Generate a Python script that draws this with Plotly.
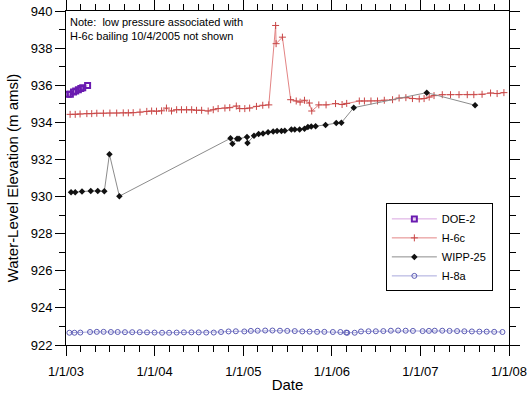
import plotly.graph_objects as go

# ---------------- data ----------------
doe2_dates = ["2003-01-10", "2003-01-19", "2003-02-01", "2003-02-10", "2003-02-21",
              "2003-03-03", "2003-03-11", "2003-03-31"]
doe2_vals = [935.51, 935.51, 935.63, 935.69, 935.76, 935.82, 935.87, 935.98]

h6c_dates = ["2003-01-18", "2003-02-08", "2003-02-28", "2003-03-28", "2003-04-17",
             "2003-05-08", "2003-06-04", "2003-07-01", "2003-07-29", "2003-08-25",
             "2003-09-15", "2003-10-05", "2003-11-02", "2003-11-30", "2003-12-20",
             "2004-01-09", "2004-01-30", "2004-02-19", "2004-03-11", "2004-04-01",
             "2004-04-21", "2004-05-12", "2004-06-02", "2004-06-22", "2004-07-13",
             "2004-08-09", "2004-08-30", "2004-09-19", "2004-10-17", "2004-11-06",
             "2004-12-03", "2004-12-17", "2005-01-07", "2005-01-27", "2005-02-24",
             "2005-03-22", "2005-04-16", "2005-05-14", "2005-05-16", "2005-06-11",
             "2005-07-15", "2005-08-07", "2005-08-23", "2005-09-10", "2005-09-30",
             "2005-10-10", "2005-11-08", "2005-12-08", "2006-01-16", "2006-02-12",
             "2006-03-03", "2006-04-24", "2006-05-15", "2006-06-11", "2006-07-08",
             "2006-08-05", "2006-09-08", "2006-10-05", "2006-11-02", "2006-11-29",
             "2006-12-27", "2007-01-16", "2007-02-06", "2007-02-26", "2007-04-01",
             "2007-05-05", "2007-06-09", "2007-07-13", "2007-08-09", "2007-09-12",
             "2007-10-17", "2007-11-13", "2007-12-11"]
h6c_vals = [934.43, 934.43, 934.45, 934.47, 934.47,
            934.49, 934.49, 934.50, 934.50, 934.51,
            934.51, 934.52, 934.55, 934.59, 934.61,
            934.60, 934.62, 934.77, 934.61, 934.68,
            934.68, 934.68, 934.68, 934.65, 934.65,
            934.61, 934.68, 934.74, 934.77, 934.79,
            934.88, 934.74, 934.74, 934.77, 934.86,
            934.92, 934.94, 939.22, 938.24, 938.59,
            935.22, 935.15, 935.09, 935.19, 935.04,
            934.61, 934.94, 934.94, 935.01, 934.96,
            935.02, 935.15, 935.15, 935.15, 935.15,
            935.19, 935.22, 935.31, 935.33, 935.28,
            935.26, 935.28, 935.36, 935.44, 935.49,
            935.49, 935.49, 935.49, 935.49, 935.51,
            935.58, 935.55, 935.60]

wipp25_dates = ["2003-01-22", "2003-02-08", "2003-03-08", "2003-04-13", "2003-05-12",
                "2003-06-08", "2003-06-29", "2003-08-09", "2004-11-09", "2004-11-17",
                "2004-12-06", "2004-12-14", "2005-01-16", "2005-01-18", "2005-02-14",
                "2005-03-05", "2005-03-23", "2005-04-13", "2005-05-04", "2005-05-20",
                "2005-06-07", "2005-06-21", "2005-07-18", "2005-08-01", "2005-08-21",
                "2005-09-10", "2005-09-24", "2005-10-08", "2005-10-26", "2005-12-06",
                "2006-01-19", "2006-02-09", "2006-04-01", "2007-01-27", "2007-08-14"]
wipp25_vals = [930.23, 930.23, 930.27, 930.30, 930.30,
               930.29, 932.28, 930.02, 933.14, 932.85,
               933.12, 933.12, 933.21, 932.89, 933.28,
               933.37, 933.40, 933.46, 933.50, 933.53,
               933.53, 933.55, 933.61, 933.61, 933.62,
               933.66, 933.75, 933.77, 933.79, 933.86,
               933.96, 933.98, 934.79, 935.60, 934.92]

h8a_dates = ["2003-01-15", "2003-02-05", "2003-03-01", "2003-04-10", "2003-05-08", "2003-06-05",
             "2003-07-05", "2003-08-02", "2003-09-01", "2003-10-01", "2003-11-01", "2003-12-01",
             "2004-01-01", "2004-02-01", "2004-03-01", "2004-04-01", "2004-05-01", "2004-06-01",
             "2004-07-01", "2004-08-01", "2004-09-01", "2004-10-01", "2004-11-01", "2004-12-01",
             "2005-01-05", "2005-02-01", "2005-03-01", "2005-04-01", "2005-05-01", "2005-06-01",
             "2005-07-01", "2005-08-01", "2005-09-01", "2005-10-01", "2005-11-01", "2005-12-01",
             "2006-01-05", "2006-02-05", "2006-03-01", "2006-03-05", "2006-04-05", "2006-05-01",
             "2006-06-01", "2006-07-01", "2006-08-01", "2006-09-01", "2006-10-01", "2006-11-01",
             "2006-12-01", "2007-01-10", "2007-02-05", "2007-03-01", "2007-04-01", "2007-05-01",
             "2007-06-01", "2007-07-01", "2007-08-01", "2007-09-01", "2007-10-01", "2007-11-01",
             "2007-12-05"]
h8a_vals = [922.66, 922.66, 922.67, 922.70, 922.71, 922.71,
            922.70, 922.70, 922.69, 922.69, 922.69, 922.68,
            922.67, 922.66, 922.66, 922.67, 922.68, 922.68,
            922.68, 922.67, 922.67, 922.70, 922.73, 922.74,
            922.73, 922.76, 922.77, 922.78, 922.78, 922.77,
            922.76, 922.75, 922.73, 922.72, 922.71, 922.71,
            922.70, 922.70, 922.67, 922.66, 922.66, 922.73,
            922.74, 922.74, 922.75, 922.77, 922.78, 922.77,
            922.76, 922.75, 922.76, 922.77, 922.77, 922.76,
            922.75, 922.74, 922.73, 922.72, 922.72, 922.71,
            922.70]

y_ticks = [922, 924, 926, 928, 930, 932, 934, 936, 938, 940]
x_range = ["2003-01-01", "2008-01-01"]

note_text = "Note:  low pressure associated with<br>H-6c bailing 10/4/2005 not shown"

# ---------------- figure ----------------
FONT = "Liberation Sans, Arial, sans-serif"
fig = go.Figure()

fig.add_trace(go.Scatter(
    x=doe2_dates, y=doe2_vals, name="DOE-2", mode="lines+markers",
    line=dict(color="#D9A6E0", width=1),
    marker=dict(symbol="square-open", size=5, color="#6A1BB0", line=dict(width=2, color="#6A1BB0"))))

fig.add_trace(go.Scatter(
    x=h6c_dates, y=h6c_vals, name="H-6c", mode="lines+markers",
    line=dict(color="#E38484", width=1),
    marker=dict(symbol="cross-thin", size=5, line=dict(width=1, color="#C84646"))))

fig.add_trace(go.Scatter(
    x=wipp25_dates, y=wipp25_vals, name="WIPP-25", mode="lines+markers",
    line=dict(color="#8C8C8C", width=1),
    marker=dict(symbol="diamond", size=5, color="#111111")))

fig.add_trace(go.Scatter(
    x=h8a_dates, y=h8a_vals, name="H-8a", mode="lines+markers",
    line=dict(color="#A8A8DC", width=1),
    marker=dict(symbol="circle-open", size=5, color="#5A5AB4", line=dict(width=1))))

fig.add_annotation(
    text=note_text, xref="paper", yref="paper", x=0.004, y=0.992,
    xanchor="left", yanchor="top", showarrow=False, align="left",
    font=dict(family=FONT, size=11, color="black"))

fig.update_xaxes(
    type="date", range=x_range, dtick="M12", tick0="2003-01-01",
    tickformat="%-m/%-d/%y", ticks="outside", ticklen=10, tickwidth=1,
    tickcolor="black", showline=True, linecolor="black", linewidth=1,
    mirror="allticks", showgrid=False, zeroline=False, automargin=False,
    ticklabelstandoff=4, ticklabeloverflow="allow",
    minor=dict(dtick="M2", tick0="2003-01-01", ticks="outside", ticklen=6,
               tickcolor="black", showgrid=False),
    title=dict(text="Date", font=dict(family=FONT, size=15), standoff=2),
    tickfont=dict(family=FONT, size=13, color="black"))

fig.update_yaxes(
    range=[922, 940], tickvals=y_ticks, ticks="outside", ticklen=10,
    tickwidth=1, tickcolor="black", showline=True, linecolor="black",
    linewidth=1, mirror="allticks", showgrid=False, zeroline=False, automargin=False,
    ticklabeloverflow="allow",
    minor=dict(dtick=1, ticks="outside", ticklen=6, tickcolor="black", showgrid=False),
    title=dict(text="Water-Level Elevation (m amsl)", font=dict(family=FONT, size=15), standoff=8),
    tickfont=dict(family=FONT, size=13, color="black"))

fig.update_layout(
    width=527, height=393,
    margin=dict(l=66, r=18, t=11, b=48),
    paper_bgcolor="white", plot_bgcolor="white",
    font=dict(family=FONT, color="black"),
    showlegend=True,
    legend=dict(x=0.722, y=0.424, xanchor="left", yanchor="top",
                bgcolor="white", bordercolor="black", borderwidth=1,
                font=dict(family=FONT, size=11), itemwidth=45,
                tracegroupgap=0))

fig.write_html("out.html",
               config={"displayModeBar": False, "staticPlot": True},
               post_script="document.body.style.margin='0';document.body.style.overflow='hidden';")
